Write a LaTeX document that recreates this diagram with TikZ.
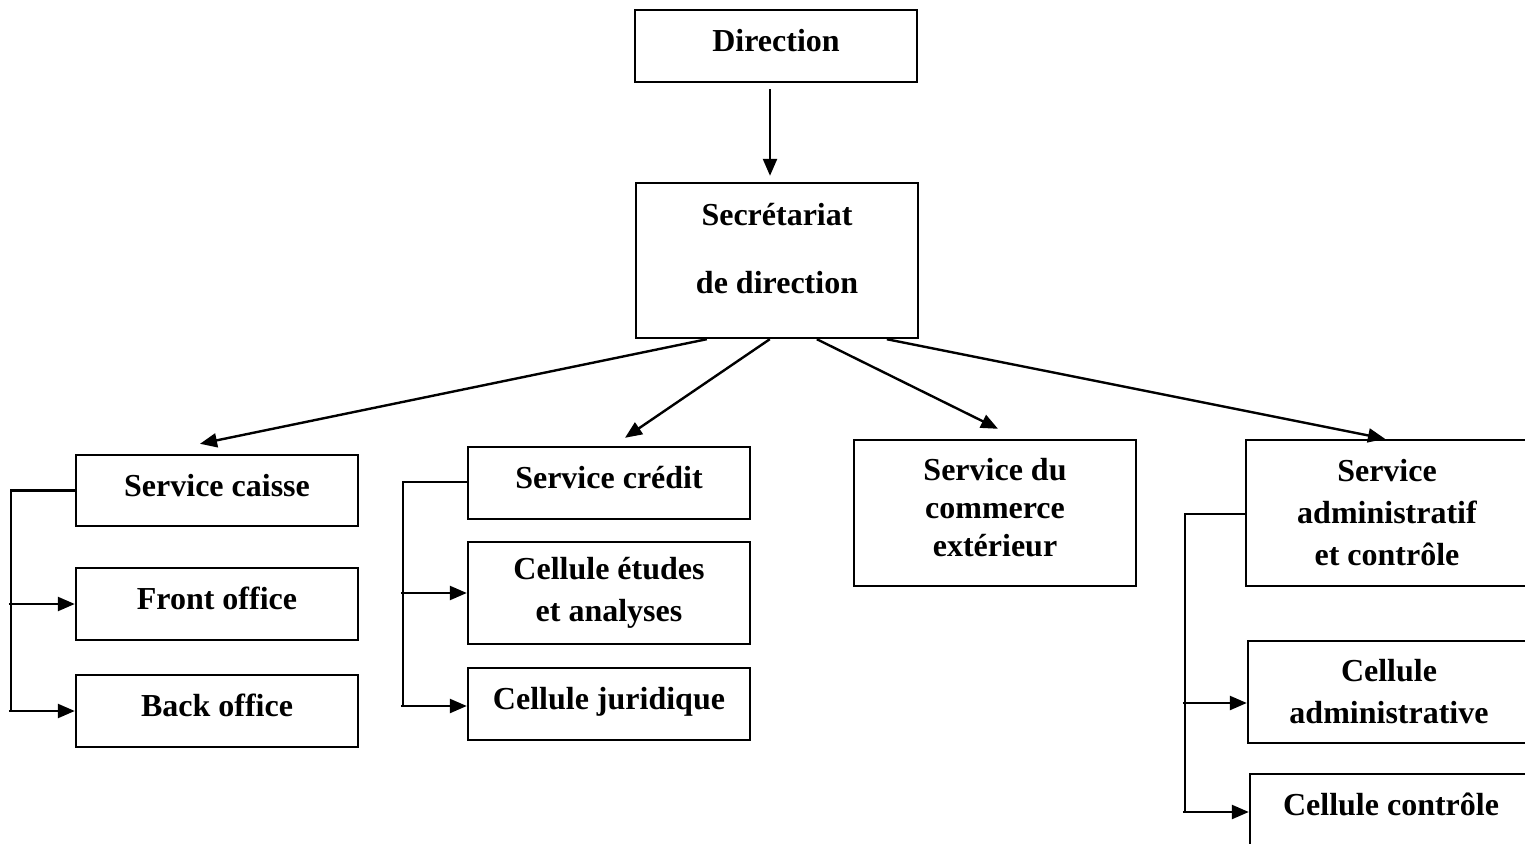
\documentclass[tikz,border=0pt]{standalone}
\usepackage{fontspec}
\setmainfont{Liberation Serif}
\usetikzlibrary{arrows.meta}
\begin{document}
\begin{tikzpicture}[x=0.5pt,y=-0.5pt,
  box/.style={draw, line width=1.2pt, minimum width=141pt, inner sep=0pt, align=center,
    font=\bfseries\fontsize{16}{19}\selectfont},
  raised/.style={text height=11pt, text depth=5.5pt},
  link/.style={line width=1.2pt},
  arr/.style={line width=1.2pt, -{Triangle[length=8.5pt,width=7pt]}}]
\useasboundingbox (0,0) rectangle (1525,844);
\clip (0,0) rectangle (1525,844);
% boxes
\node[box, raised, minimum height=36pt] (dir) at (776,46) {Direction};
\node[box, minimum height=77.5pt] (sec) at (777,260.5) {Secrétariat\\[15pt]de direction\\[-7pt]\mbox{}};
\node[box, raised, minimum height=35.5pt] (caisse) at (217,490.5) {Service caisse};
\node[box, raised, minimum height=36pt] (front) at (217,604) {Front office};
\node[box, raised, minimum height=36pt] (back) at (217,711) {Back office};
\node[box, raised, minimum height=36pt] (credit) at (609,483) {Service crédit};
\node[box, minimum height=51pt] (etudes) at (609,593) {Cellule études\\[2pt]et analyses};
\node[box, raised, minimum height=36pt] (jur) at (609,704) {Cellule juridique};
\node[box, minimum height=73pt] (com) at (995,513) {Service du\\commerce\\extérieur\\[-13pt]\mbox{}};
\node[box, minimum height=73pt] (adm) at (1387,513) {Service\\[2pt]administratif\\[2pt]et contrôle};
\node[box, minimum height=51pt] (cadm) at (1389,692) {Cellule\\[2pt]administrative};
\node[box, raised, minimum height=36pt] (ccon) at (1391,810) {Cellule contrôle};
% main arrows
\draw[arr] ([xshift=-3pt,yshift=-3pt]dir.south) -- ([xshift=-3.5pt,yshift=3pt]sec.north);
\draw[arr] ([xshift=36pt]sec.south west) -- ([xshift=-8.5pt,yshift=5pt]caisse.north);
\draw[arr] ([xshift=67.5pt]sec.south west) -- ([xshift=8pt,yshift=4pt]credit.north);
\draw[arr] ([xshift=91pt]sec.south west) -- ([xshift=1.5pt,yshift=5pt]com.north);
\draw[arr] ([xshift=126pt]sec.south west) -- ([xshift=-1pt,yshift=0pt]adm.north);
% brackets
\draw[link] (caisse.west) -| ([xshift=-32pt]back.west);
\draw[arr] ([xshift=-33pt]front.west) -- (front.west);
\draw[arr] ([xshift=-33pt]back.west) -- (back.west);
\draw[link] ([yshift=0.5pt]credit.west) -| ([xshift=-32pt,yshift=-1pt]jur.west);
\draw[arr] ([xshift=-33pt]etudes.west) -- (etudes.west);
\draw[arr] ([xshift=-33pt,yshift=-1pt]jur.west) -- ([yshift=-1pt]jur.west);
\draw[link] ([yshift=-0.5pt]adm.west) -| ([xshift=-32pt,yshift=-1pt]ccon.west);
\draw[arr] ([xshift=-32pt,yshift=-5.5pt]cadm.west) -- ([yshift=-5.5pt]cadm.west);
\draw[arr] ([xshift=-33pt,yshift=-1pt]ccon.west) -- ([yshift=-1pt]ccon.west);
\end{tikzpicture}
\end{document}
